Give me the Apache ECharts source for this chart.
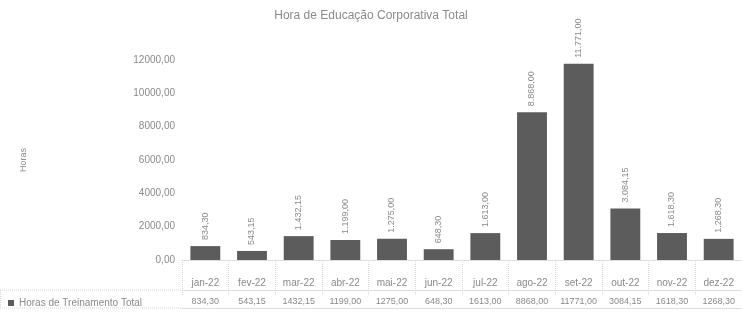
<!DOCTYPE html>
<html>
<head>
<meta charset="utf-8">
<script src="https://cdn.jsdelivr.net/npm/echarts@6/dist/echarts.min.js"></script>
<style>
  html, body { margin: 0; padding: 0; background: #fff; }
  #chart { width: 742px; height: 312px; }
</style>
</head>
<body>
<div id="chart"></div>
<script>
var months = ['jan-22', 'fev-22', 'mar-22', 'abr-22', 'mai-22', 'jun-22',
              'jul-22', 'ago-22', 'set-22', 'out-22', 'nov-22', 'dez-22'];
var horas = [834.30, 543.15, 1432.15, 1199.00, 1275.00, 648.30,
             1613.00, 8868.00, 11771.00, 3084.15, 1618.30, 1268.30];
var yTicks = [0, 2000, 4000, 6000, 8000, 10000, 12000];

function fmtPlain(v) {
    return v.toFixed(2).replace('.', ',');
}
function fmtThousands(v) {
    var parts = v.toFixed(2).split('.');
    parts[0] = parts[0].replace(/\B(?=(\d{3})+(?!\d))/g, '.');
    return parts[0] + ',' + parts[1];
}

var chart = echarts.init(document.getElementById('chart'));
var grey = '#8a8a8a';
var lineGrey = '#d6d6d6';
var font = 'Liberation Sans, Arial, sans-serif';

chart.setOption({
    backgroundColor: '#fff',
    textStyle: { fontFamily: font },
    title: {
        text: 'Hora de Educação Corporativa Total',
        left: 'center',
        top: 5,
        textStyle: { fontSize: 12, fontWeight: 'normal', color: grey, fontFamily: font }
    },
    legend: {
        data: ['Horas de Treinamento Total'],
        left: 3,
        top: 293,
        itemWidth: 6,
        itemHeight: 6,
        itemGap: 4,
        icon: 'rect',
        textStyle: { fontSize: 10, color: grey, fontFamily: font }
    },
    // borders of the legend cell of the data table
    graphic: [
        { type: 'line', shape: { x1: 0, y1: 290, x2: 182, y2: 290 }, style: { stroke: lineGrey, lineDash: [1, 1] } },
        { type: 'line', shape: { x1: 0, y1: 308, x2: 182, y2: 308 }, style: { stroke: lineGrey, lineDash: [1, 1] } },
        { type: 'line', shape: { x1: 0.5, y1: 290, x2: 0.5, y2: 308 }, style: { stroke: lineGrey, lineDash: [1, 1] } }
    ],
    grid: { left: 182, right: 0, top: 60, bottom: 52 },
    xAxis: [{
        type: 'category',
        data: months,
        offset: 13,
        axisLine: { show: true, lineStyle: { color: lineGrey, type: 'dotted' } },
        axisTick: { show: true, alignWithLabel: false, length: 35, lineStyle: { color: lineGrey, type: 'dotted' } },
        axisLabel: { color: grey, fontSize: 10, margin: 5, interval: 0, fontFamily: font }
    }, {
        type: 'category',
        data: horas.map(fmtPlain),
        position: 'bottom',
        offset: 30,
        axisLine: { show: true, lineStyle: { color: lineGrey, type: 'dotted' } },
        axisTick: { show: false },
        axisLabel: { color: grey, fontSize: 9, margin: 7, interval: 0, hideOverlap: false, fontFamily: font }
    }, {
        type: 'category',
        data: months,
        position: 'bottom',
        offset: 48,
        axisLine: { show: true, lineStyle: { color: lineGrey, type: 'dotted' } },
        axisTick: { show: false },
        axisLabel: { show: false }
    }],
    yAxis: {
        type: 'value',
        min: yTicks[0],
        max: yTicks[yTicks.length - 1],
        interval: 2000,
        name: 'Horas',
        nameLocation: 'middle',
        nameRotate: 90,
        nameGap: 154,
        nameTextStyle: { fontSize: 9, color: grey },
        axisLine: { show: false },
        axisTick: { show: false },
        splitLine: { show: false },
        axisLabel: { color: grey, fontSize: 10, margin: 7, formatter: fmtPlain }
    },
    series: [{
        name: 'Horas de Treinamento Total',
        type: 'bar',
        data: horas,
        xAxisIndex: 0,
        barCategoryGap: '36%',
        itemStyle: { color: '#5c5c5c' },
        label: {
            show: true,
            position: 'top',
            rotate: 90,
            align: 'left',
            verticalAlign: 'middle',
            distance: 6,
            fontSize: 9,
            color: grey,
            formatter: function (p) { return fmtThousands(p.value); }
        }
    }]
});
</script>
</body>
</html>
